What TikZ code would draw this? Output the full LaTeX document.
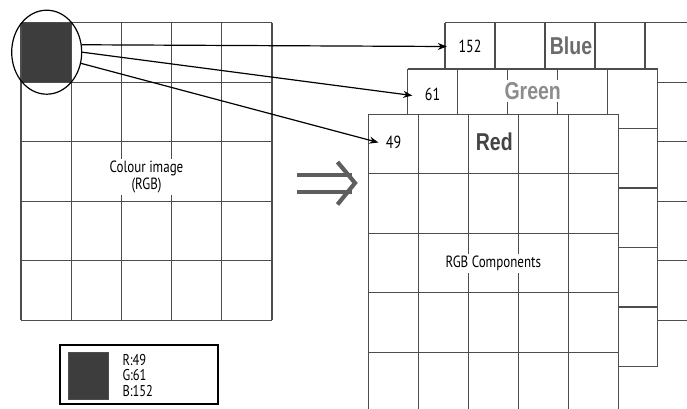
\documentclass[tikz,border=0pt]{standalone}
\usepackage{fontspec}
\setmainfont{PT Sans}
\newfontfamily\layerfont{Liberation Sans}
\usetikzlibrary{shapes.geometric, arrows.meta, positioning}
\definecolor{GridGrey}{HTML}{4D4D4D}
\definecolor{PixelGrey}{HTML}{3D3D3D}
\definecolor{RedText}{HTML}{444444}
\definecolor{GreenText}{HTML}{8C8C8C}
\definecolor{BlueText}{HTML}{6B6B6B}
\definecolor{ImpliesGrey}{HTML}{5E5E5E}
\newcommand{\tallbox}[1]{\scalebox{1}[1.25]{#1}}
\tikzset{
    gridline/.style={
        draw=GridGrey,
        line width=1.15pt
    },
    cellvalue/.style={
        minimum width=50pt,
        inner sep=0pt,
        font=\fontsize{14}{16}\selectfont
    },
    layername/.style={
        fill=white,
        inner sep=2pt,
        text=#1,
        font=\layerfont\bfseries\fontsize{19.5}{22}\selectfont
    },
    imgtext/.style={
        fill=white,
        inner sep=2pt,
        align=center,
        font=\fontsize{13}{17}\selectfont
    },
    pixel/.style={
        fill=PixelGrey,
        draw=GridGrey,
        line width=0.6pt,
        inner sep=0pt
    },
    pixelarrow/.style={
        -{Stealth[length=9pt,width=7pt]},
        line width=1.2pt,
        black
    },
    implies/.style={
        draw=ImpliesGrey,
        line width=4.2pt,
        miter limit=4
    }
}

\begin{document}
\begin{tikzpicture}[x=1pt, y=-1pt]
    \useasboundingbox (0,0) rectangle (687,408);
    \clip (0,0) rectangle (687,408);

    % Colour image grid
    \foreach \k in {0,...,5} {
        \draw[gridline] (21+\k*50.2,22.7) -- ++(0,297.5);
        \draw[gridline] (21,22.7+\k*59.5) -- ++(251,0);
    }
    \node[pixel, minimum width=50.2pt, minimum height=59.5pt] (px) at (46.1,52.45) {};
    \node[draw, ellipse, line width=1.2pt, minimum width=70pt, minimum height=84pt, inner sep=0pt] (lens) at (46.7,52.2) {};
    \node[imgtext] (colour) at (146.5,177) {\tallbox{Colour image}\\\tallbox{(RGB)}};

    % Key
    \node[draw, line width=1.5pt, minimum width=158pt, minimum height=59pt, inner sep=0pt] (key) at (139,374.5) {};
    \node[pixel, minimum width=40pt, minimum height=47pt] (swatch) at (88,375.5) {};
    \node[right=13pt of swatch, inner sep=1pt, align=left, font=\fontsize{12.5}{15.5}\selectfont] (values)
        {\tallbox{R:49}\\\tallbox{G:61}\\\tallbox{B:152}};

    % Implies sign
    \draw[implies] (297,175) -- (352,175) (297,191.7) -- (352,191.7);
    \draw[implies] (337.5,162) -- (355,183) -- (337.5,204.5);

    % Component layers, back to front
    \foreach \lx/\ly in {445/22.7, 407.7/69, 368.3/114.3} {
        \fill[white] (\lx,\ly) rectangle ++(250,297.5);
        \foreach \k in {0,...,5} {
            \draw[gridline] (\lx+\k*50,\ly) -- ++(0,297.5);
            \draw[gridline] (\lx,\ly+\k*59.5) -- ++(250,0);
        }
    }

    % Layer labels
    \node[cellvalue] (blue1) at (470,46.5) {\tallbox{152}};
    \node[layername=BlueText] (blue) at (571,45.7) {\tallbox{Blue}};
    \node[cellvalue] (green1) at (432.5,94.5) {\tallbox{61}};
    \node[layername=GreenText] (green) at (532.7,91) {\tallbox{Green}};
    \node[cellvalue] (red1) at (393.6,142.5) {\tallbox{49}};
    \node[layername=RedText] (red) at (494.3,141.7) {\tallbox{Red}};
    \node[imgtext] (components) at (493.3,263.4) {\tallbox{RGB Components}};

    % Pixel arrows
    \draw[pixelarrow] (lens.12) -- ([xshift=2pt]blue1.west);
    \draw[pixelarrow] (lens.east) -- ([xshift=5pt, yshift=-1pt]green1.west);
    \draw[pixelarrow] (lens.-18) -- ([xshift=10pt]red1.west);
\end{tikzpicture}
\end{document}
